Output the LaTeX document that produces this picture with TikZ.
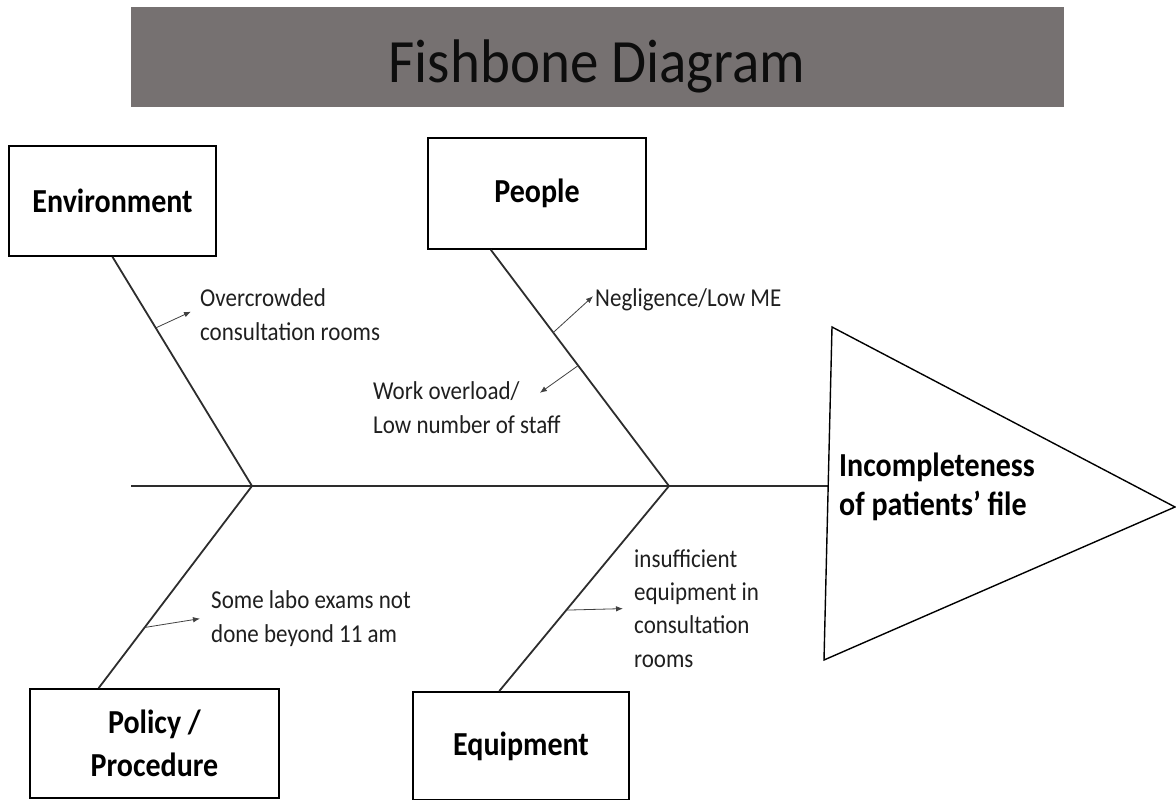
\documentclass[tikz,border=0pt]{standalone}
\usepackage{fontspec}
\setmainfont{Carlito}
\usetikzlibrary{arrows.meta,calc}

\definecolor{bannergray}{RGB}{118,113,113}
\definecolor{bonegray}{RGB}{45,45,45}

\begin{document}
\begin{tikzpicture}[x=1pt, y=-1pt,
    tall/.style={yscale=1.12, transform shape},
    catbox/.style={tall, draw=black, line width=1.6pt, fill=white, inner sep=0pt,
        align=center, font=\fontsize{30}{38.5}\selectfont\bfseries},
    bone/.style={draw=bonegray, line width=1.8pt},
    causetext/.style={tall, anchor=base west, inner sep=0pt, align=left,
        font=\fontsize{23}{29.5}\selectfont, text=black!88},
    tick/.style={-{Latex[length=7pt,width=5.5pt]}, line width=0.8pt, draw=black!75}]

    % --- Frame ---
    \useasboundingbox (0,0) rectangle (1176,800);

    % --- Title banner ---
    \fill[bannergray] (131,7) rectangle (1064,107);
    \node (title) at (597,82) [yscale=1.08, transform shape, anchor=base,
        inner sep=0pt, text=black!95, font=\fontsize{57}{60}\selectfont] {Fishbone Diagram};

    % --- Spine and head ---
    \coordinate (tail) at (131,486);
    \coordinate (j1) at (252,486);   % joint of Environment / Policy
    \coordinate (j2) at (669,486);   % joint of People / Equipment
    \coordinate (headin) at (828,486);
    \coordinate (headtop) at (832,327);
    \coordinate (headtip) at (1175,507);
    \coordinate (headbot) at (824,660);

    \draw[bone] (tail) -- (headin);
    \draw[line width=1.4pt, fill=white] (headtop) -- (headtip) -- (headbot) -- cycle;
    % base of a two-line node = last line
    \node[tall, anchor=base west, inner sep=0pt, align=left,
        font=\fontsize{30}{34}\selectfont\bfseries] (effect) at (839,515)
        {Incompleteness\\of patients’ file};

    % --- Category boxes ---
    \node[catbox, minimum width=207pt, minimum height=98.2pt] (env) at (112.5,201) {Environment};
    \node[catbox, minimum width=218pt, minimum height=99.1pt] (ppl) at (537,193.5) {People};
    \node[catbox, minimum width=249pt, minimum height=97.3pt] (pol) at (154.5,743.5) {Policy /\\Procedure};
    \node[catbox, minimum width=216pt, minimum height=96.4pt] (eqp) at (521,746) {Equipment};

    % --- Bones ---
    \coordinate (envfoot) at (env.south);
    \coordinate (pplfoot) at ($(ppl.south west)!0.29!(ppl.south east)$);
    \coordinate (polfoot) at ($(pol.north west)!0.277!(pol.north east)$);
    \coordinate (eqpfoot) at ($(eqp.north west)!0.40!(eqp.north east)$);

    \draw[bone] (envfoot) -- (j1) -- (polfoot);
    \draw[bone] (pplfoot) -- (j2) -- (eqpfoot);

    % --- Causes ---
    \node[causetext] (over) at (200,340) {Overcrowded\\consultation rooms};
    \node[causetext] (negl) at (595,306) {Negligence/Low ME};
    \node[causetext] (work) at (373,433) {Work overload/\\Low number of staff};
    \node[causetext] (labo) at (211,642) {Some labo exams not\\done beyond 11 am};
    \node[causetext] (insuf) at (634,667) {insufficient\\equipment in\\consultation\\rooms};

    \draw[tick] ($(envfoot)!0.31!(j1)$) -- ([xshift=-9pt,yshift=3pt]over.west);
    \draw[tick] ($(pplfoot)!0.35!(j2)$) -- ([xshift=-2pt,yshift=3pt]negl.west);
    \draw[tick] ($(pplfoot)!0.49!(j2)$) -- ($(work.north east)+(-21,11)$);
    \draw[tick] ($(j1)!0.7!(polfoot)$) -- ([xshift=-11pt]labo.west);
    \draw[tick] ($(j2)!0.605!(eqpfoot)$) -- ([xshift=-11pt]insuf.west);

\end{tikzpicture}
\end{document}
